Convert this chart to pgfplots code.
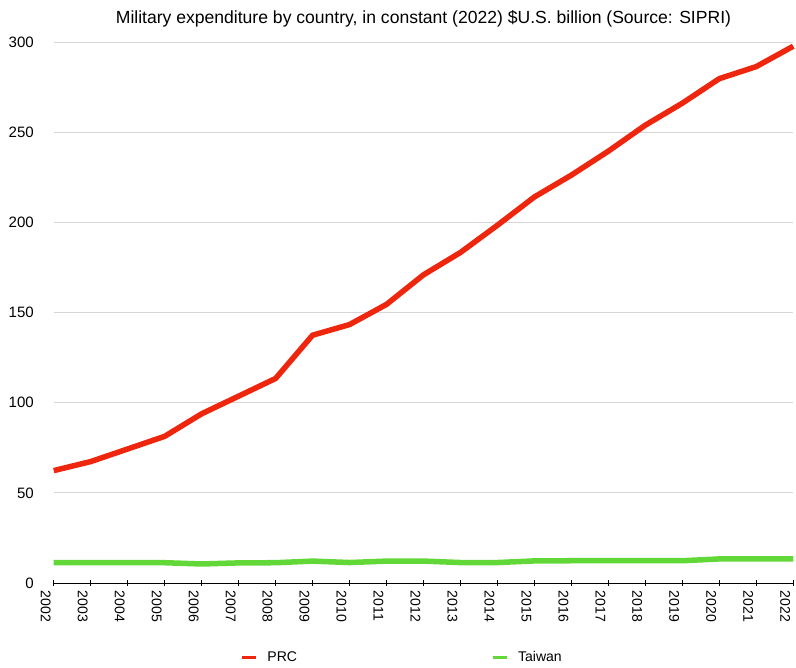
\documentclass[border=0pt]{standalone}
\usepackage{fontspec}
\setmainfont{Liberation Sans}
\usepackage{pgfplots}
\pgfplotsset{compat=1.18}

\definecolor{prcred}{RGB}{238,38,14}
\definecolor{twgreen}{RGB}{98,216,56}
\definecolor{gridgray}{RGB}{214,214,214}

\pgfplotstableread{
year prc taiwan
2002 62.4 11.4
2003 67.4 11.4
2004 74.4 11.4
2005 81.4 11.3
2006 93.9 10.6
2007 103.7 11.2
2008 113.5 11.3
2009 137.5 12.2
2010 143.4 11.4
2011 154.6 12.2
2012 171.0 12.2
2013 183.4 11.4
2014 198.5 11.4
2015 214.2 12.3
2016 226.3 12.4
2017 239.6 12.4
2018 254.0 12.4
2019 266.2 12.4
2020 279.8 13.4
2021 286.5 13.4
2022 297.8 13.4
}\spending

\begin{document}
\fontsize{14}{17}\selectfont
\begin{tikzpicture}
\begin{axis}[
    scale only axis,
    width=737pt, height=539pt,
    xmin=2002, xmax=2022,
    ymin=0, ymax=300,
    ytick={0,50,...,300},
    xtick=data,
    /pgf/number format/1000 sep={},
    /pgf/number format/assume math mode=true,
    axis x line=bottom,
    axis y line=left,
    axis line style={-, black, line width=1pt},
    y axis line style={draw=none},
    ytick style={draw=none},
    xtick style={black, line width=0.8pt},
    tick align=center,
    major tick length=6pt,
    x tick label style={rotate=-90, anchor=west, font=\fontsize{14}{17}\selectfont},
    y tick label style={font=\fontsize{15}{18}\selectfont},
    yticklabel style={xshift=-12pt},
    xticklabel style={yshift=-8pt},
    ymajorgrids=true,
    grid style={gridgray, line width=1pt},
    title={Military expenditure by country, in constant (2022) \$U.S. billion (Source: SIPRI)},
    title style={font=\fontsize{17.5}{20}\selectfont, yshift=4pt},
    legend columns=2,
    legend style={
        draw=none, fill=none,
        at={(axis description cs:0.5,0)}, anchor=center,
        yshift=-74pt, xshift=-21pt,
        font=\fontsize{14}{17}\selectfont,
        /tikz/every even column/.append style={column sep=192pt},
    },
    legend image code/.code={
        \draw[#1, line width=2.5pt] (0pt,0pt) -- (14pt,0pt);
        \path[draw=none] (0pt,0pt) -- (23pt,0pt);
    },
    clip=false,
]
\addplot[prcred, line width=5.5pt, line join=round] table[x=year, y=prc] {\spending};
\addlegendentry{PRC}
\addplot[twgreen, line width=5.5pt, line join=round] table[x=year, y=taiwan] {\spending};
\addlegendentry{Taiwan}
\end{axis}
% a little white margin above and to the left, as in the reference
\path (current bounding box.north west) -- ++(-4pt,6pt);
\end{tikzpicture}
\end{document}
